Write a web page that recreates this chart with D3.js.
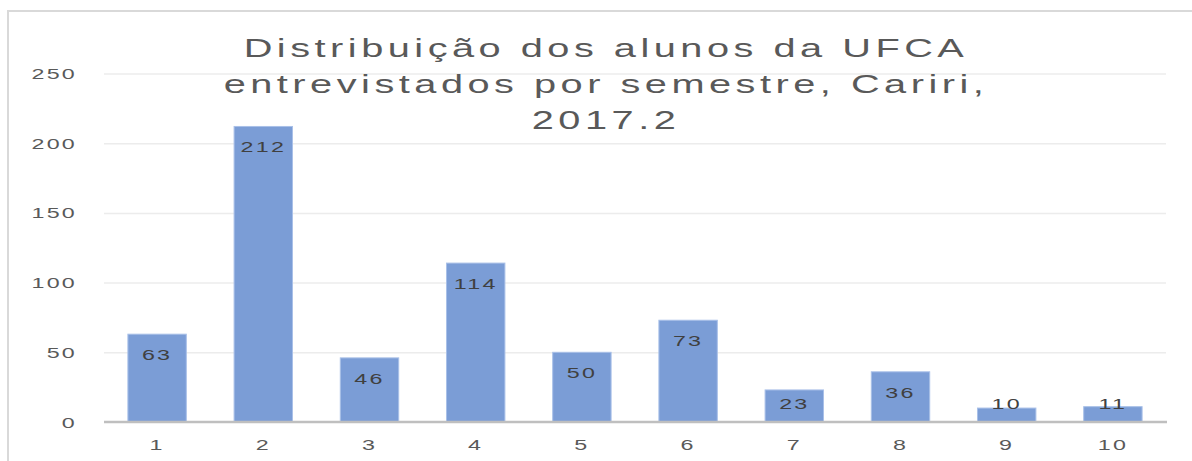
<!DOCTYPE html>
<html>
<head>
<meta charset="utf-8">
<script src="https://cdn.jsdelivr.net/npm/d3@7"></script>
<style>
  html, body { margin: 0; padding: 0; background: #fff; }
  svg { display: block; }
  text { font-family: "Liberation Sans", Arial, sans-serif; }
</style>
</head>
<body>
<svg id="chart" width="1192" height="461"></svg>
<script>
// Alunos entrevistados por semestre
const semesters = ["1", "2", "3", "4", "5", "6", "7", "8", "9", "10"];
const students = [63, 212, 46, 114, 50, 73, 23, 36, 10, 11];
const yTickValues = [0, 50, 100, 150, 200, 250];
const titleLines = [
  "Distribuição dos alunos da UFCA",
  "entrevistados por semestre, Cariri,",
  "2017.2"
];

const W = 1192, H = 461;
const plot = { left: 104, right: 1166, top: 73.5, bottom: 422 };
const stretch = 1.5; // horizontal widening applied to all labels

const svg = d3.select("#chart");

// outer frame of the chart area
svg.append("rect")
  .attr("x", 8).attr("y", 11)
  .attr("width", W + 20).attr("height", H + 20)
  .attr("fill", "none")
  .attr("stroke", "#d9d9d9")
  .attr("stroke-width", 2);

const x = d3.scaleBand()
  .domain(semesters)
  .range([plot.left, plot.right])
  .paddingInner(0.45)
  .paddingOuter(0.225);

const y = d3.scaleLinear()
  .domain([0, 250])
  .range([plot.bottom, plot.top]);

// helper: wide text drawn with a horizontal scale
function wideText(sel, fx, fy) {
  return sel.attr("transform", (d, i) => `translate(${fx(d, i)},${fy(d, i)}) scale(${stretch},1)`);
}

// gridlines
const yAxis = d3.axisLeft(y).tickValues(yTickValues).tickSize(-(plot.right - plot.left)).tickPadding(0);
const gy = svg.append("g").attr("transform", `translate(${plot.left},0)`).call(yAxis);
gy.select(".domain").remove();
gy.selectAll(".tick line")
  .attr("stroke", (d) => d === 0 ? "none" : "#ececec")
  .attr("stroke-width", 1.5);
gy.selectAll(".tick text").remove();

// y tick labels
wideText(
  svg.append("g").selectAll("text").data(yTickValues).join("text")
    .attr("text-anchor", "end")
    .attr("font-size", 15.5)
    .attr("letter-spacing", 1.5)
    .attr("fill", "#595959")
    .text(d => d),
  () => 77, d => y(d) + 5.5
);

// bars
svg.append("g").selectAll("rect").data(students).join("rect")
  .attr("x", (d, i) => x(semesters[i]))
  .attr("y", d => y(d))
  .attr("width", x.bandwidth())
  .attr("height", d => y(0) - y(d))
  .attr("fill", "#7b9dd6")
  .attr("stroke", "#a9c0e8")
  .attr("stroke-width", 1);

// baseline axis
const xAxis = d3.axisBottom(x).tickSize(0).tickPadding(0);
const gx = svg.append("g").attr("transform", `translate(0,${plot.bottom})`).call(xAxis);
gx.select(".domain").attr("stroke", "#bfbfbf").attr("stroke-width", 2.5)
  .attr("d", `M${plot.left},0H${plot.right + 1}`);
gx.selectAll(".tick text").remove();

// category labels
wideText(
  svg.append("g").selectAll("text").data(semesters).join("text")
    .attr("text-anchor", "middle")
    .attr("font-size", 15.5)
    .attr("letter-spacing", 1.5)
    .attr("fill", "#595959")
    .text(d => d),
  d => x(d) + x.bandwidth() / 2, () => 450
);

// value labels, inside the top of each bar
wideText(
  svg.append("g").selectAll("text").data(students).join("text")
    .attr("text-anchor", "middle")
    .attr("font-size", 15.5)
    .attr("letter-spacing", 1.5)
    .attr("fill", "#404040")
    .text(d => d),
  (d, i) => x(semesters[i]) + x.bandwidth() / 2,
  d => Math.min(y(d) + 26, 409)
);

// title
wideText(
  svg.append("g").selectAll("text").data(titleLines).join("text")
    .attr("text-anchor", "middle")
    .attr("font-size", 26.5)
    .attr("letter-spacing", 3)
    .attr("fill", "#595959")
    .text(d => d),
  () => 606, (d, i) => 57 + i * 36
);
</script>
</body>
</html>
